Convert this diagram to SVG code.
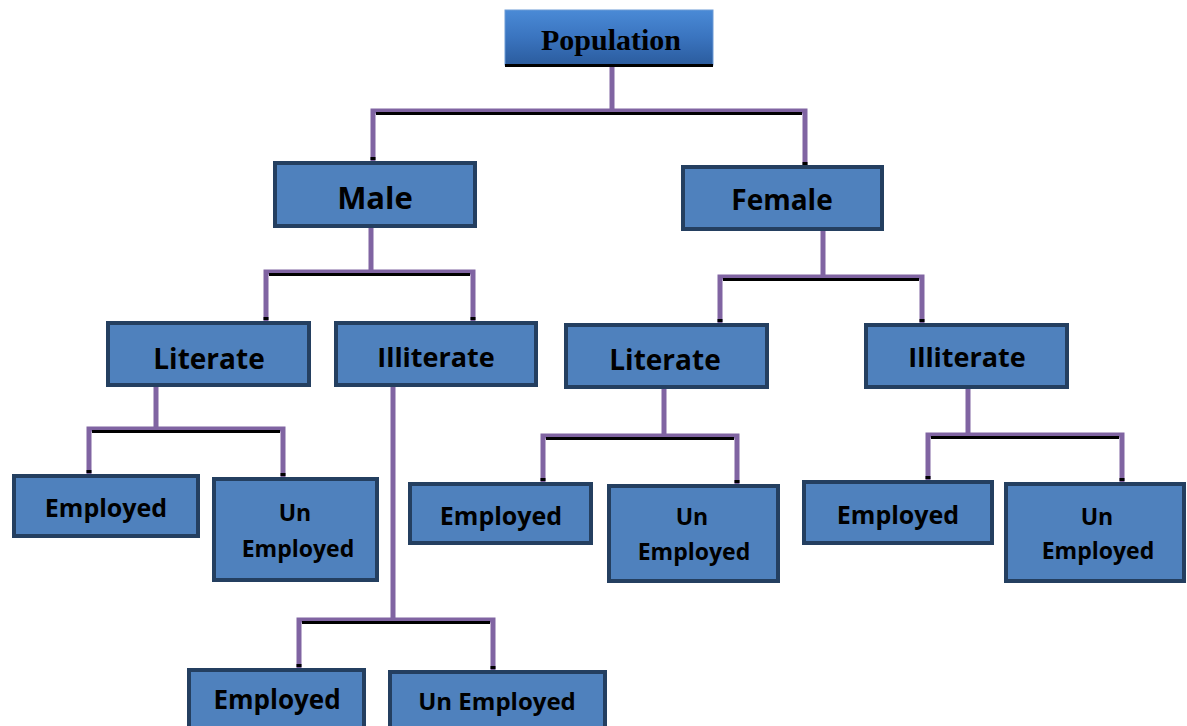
<svg xmlns="http://www.w3.org/2000/svg" width="1187" height="726" viewBox="0 0 1187 726">
<defs>
<linearGradient id="pg" x1="0" y1="0" x2="0" y2="1">
<stop offset="0" stop-color="#4a8ad6"/>
<stop offset="0.5" stop-color="#3a74bf"/>
<stop offset="1" stop-color="#2b5c9e"/>
</linearGradient>
<style>
.box{fill:#4f81bd;stroke:#243f60;stroke-width:4}
.t{font-family:"Open Sans","Liberation Sans",sans-serif;font-weight:bold;fill:#000;text-anchor:middle}
.c{fill:none;stroke:#8064a2;stroke-width:5;stroke-linejoin:miter}
.s{fill:none;stroke:#000;stroke-width:3}
.k{fill:#000}
</style>
</defs>
<rect width="1187" height="726" fill="#fff"/>
<g id="connectors">
<path class="c" d="M612 66V111M373 161V111H805V166"/>
<line class="s" x1="376" y1="113.5" x2="802" y2="113.5"/>
<path class="c" d="M371 228V272M266 321V272H473V321"/>
<line class="s" x1="269" y1="274.5" x2="470" y2="274.5"/>
<path class="c" d="M823 231V277M720 323V277H922V323"/>
<line class="s" x1="723" y1="279.5" x2="919" y2="279.5"/>
<path class="c" d="M156 387V429M89 474V429H283V477"/>
<line class="s" x1="92" y1="431.5" x2="280" y2="431.5"/>
<path class="c" d="M393 387V620M299 668V620H493V670"/>
<line class="s" x1="302" y1="622.5" x2="490" y2="622.5"/>
<path class="c" d="M664 389V436M543 482V436H737V484"/>
<line class="s" x1="546" y1="438.5" x2="734" y2="438.5"/>
<path class="c" d="M968 389V435M928 480V435H1122V482"/>
<line class="s" x1="931" y1="437.5" x2="1119" y2="437.5"/>
<rect class="k" x="370.5" y="157" width="5" height="3"/>
<rect class="k" x="802.5" y="162" width="5" height="3"/>
<rect class="k" x="263.5" y="317" width="5" height="3"/>
<rect class="k" x="470.5" y="317" width="5" height="3"/>
<rect class="k" x="717.5" y="319" width="5" height="3"/>
<rect class="k" x="919.5" y="319" width="5" height="3"/>
<rect class="k" x="86.5" y="470" width="5" height="3"/>
<rect class="k" x="280.5" y="473" width="5" height="3"/>
<rect class="k" x="296.5" y="664" width="5" height="3"/>
<rect class="k" x="490.5" y="666" width="5" height="3"/>
<rect class="k" x="540.5" y="478" width="5" height="3"/>
<rect class="k" x="734.5" y="480" width="5" height="3"/>
<rect class="k" x="925.5" y="476" width="5" height="3"/>
<rect class="k" x="1119.5" y="478" width="5" height="3"/>
</g>
<g id="population">
<rect x="505" y="10" width="208" height="55" fill="url(#pg)" stroke="#6d9bd6" stroke-width="1"/>
<rect x="505" y="64" width="208" height="3" fill="#000"/>
<text x="611" y="50" font-family="'Liberation Serif',serif" font-weight="bold" font-size="30" text-anchor="middle">Population</text>
</g>
<g id="male">
<rect class="box" x="275" y="163" width="200" height="63"/>
<text class="t" x="375" y="209" font-size="31">Male</text>
</g>
<g id="female">
<rect class="box" x="683" y="167" width="199" height="62"/>
<text class="t" x="782" y="210" font-size="28">Female</text>
</g>
<g id="male-literate">
<rect class="box" x="108" y="323" width="201" height="62"/>
<text class="t" x="209" y="369" font-size="28">Literate</text>
</g>
<g id="male-illiterate">
<rect class="box" x="336" y="323" width="200" height="62"/>
<text class="t" x="436" y="367" font-size="27">Illiterate</text>
</g>
<g id="female-literate">
<rect class="box" x="566" y="325" width="201" height="62"/>
<text class="t" x="665" y="370" font-size="28">Literate</text>
</g>
<g id="female-illiterate">
<rect class="box" x="866" y="325" width="201" height="62"/>
<text class="t" x="967" y="367" font-size="27">Illiterate</text>
</g>
<g id="ml-employed">
<rect class="box" x="14" y="476" width="184" height="60"/>
<text class="t" x="106" y="517" font-size="25">Employed</text>
</g>
<g id="ml-unemployed">
<rect class="box" x="214" y="479" width="163" height="101"/>
<text class="t" x="295" y="521" font-size="23">Un</text>
<text class="t" x="298" y="557" font-size="23">Employed</text>
</g>
<g id="mi-employed">
<rect class="box" x="189" y="670" width="175" height="62"/>
<text class="t" x="277" y="709" font-size="26">Employed</text>
</g>
<g id="mi-unemployed">
<rect class="box" x="390" y="672" width="215" height="60"/>
<text class="t" x="497" y="710" font-size="24">Un Employed</text>
</g>
<g id="fl-employed">
<rect class="box" x="410" y="484" width="181" height="59"/>
<text class="t" x="501" y="525" font-size="25">Employed</text>
</g>
<g id="fl-unemployed">
<rect class="box" x="609" y="486" width="169" height="95"/>
<text class="t" x="692" y="525" font-size="23">Un</text>
<text class="t" x="694" y="560" font-size="23">Employed</text>
</g>
<g id="fi-employed">
<rect class="box" x="804" y="482" width="188" height="61"/>
<text class="t" x="898" y="524" font-size="25">Employed</text>
</g>
<g id="fi-unemployed">
<rect class="box" x="1006" y="484" width="178" height="97"/>
<text class="t" x="1097" y="525" font-size="23">Un</text>
<text class="t" x="1098" y="559" font-size="23">Employed</text>
</g>
</svg>
